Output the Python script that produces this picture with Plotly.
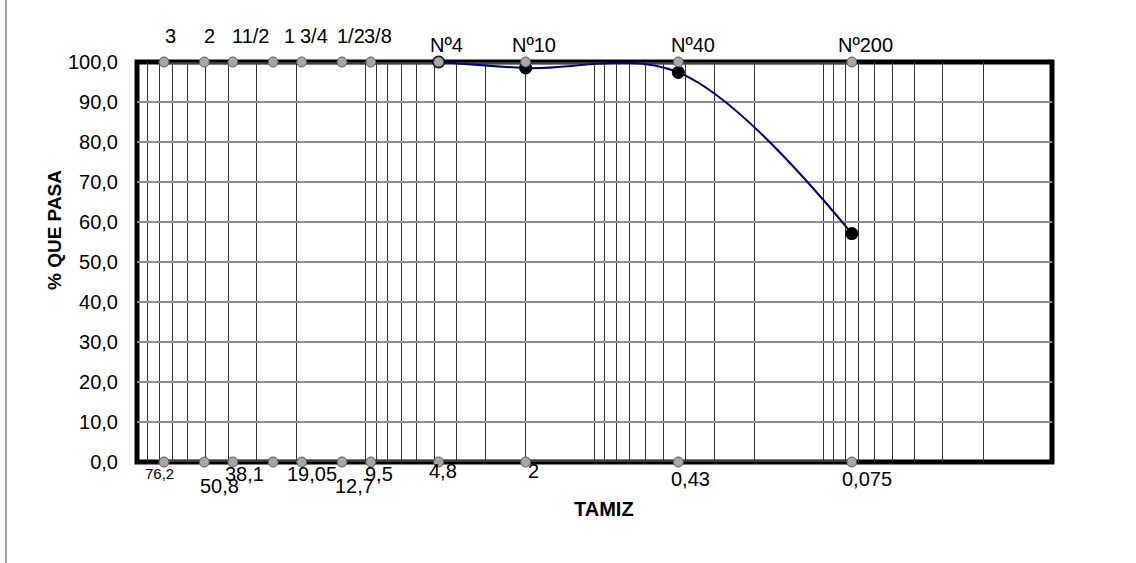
import math
import plotly.graph_objects as go

# ---------------- data ----------------
sieve_mm = [76.2, 50.8, 38.1, 25.4, 19.05, 12.7, 9.5, 4.8, 2.0, 0.43, 0.075]
sieve_top_labels = ["3", "2", "11/2", "1", "3/4", "1/2", "3/8", "Nº4", "Nº10", "Nº40", "Nº200"]
sieve_bottom_labels = ["76,2", "50,8", "38,1", "", "19,05", "12,7", "9,5", "4,8", "2", "0,43", "0,075"]

test_sieve_mm = [4.8, 2.0, 0.43, 0.075]
pct_passing = [100.0, 98.5, 97.4, 57.1]

y_ticks = [0, 10, 20, 30, 40, 50, 60, 70, 80, 90, 100]

# ---------------- styles ----------------
FONT = "Liberation Sans, Arial, sans-serif"
top_dx = [6, 5, 18, 16, 12.5, 8.5, 7.5, 7.5, 8, 15, 14]
top_dy = [26.5, 26.5, 26.5, 26.5, 26.5, 26.5, 26.5, 17, 17, 17, 17]
bot_dx = [-5, 15, 12, 0, 10, 12, 8, 4, 8, 12, 15]
bot_dy = [-11, -24, -12, 0, -12, -24, -12, -9, -9, -17, -17]
bot_size = [15, 20, 20, 20, 20, 20, 20, 20, 20, 20, 20]

W, H = 1136, 563
L, R, T, B = 137, 84, 62, 101

fig = go.Figure()

# smoothed test curve (clipped to plot area)
fig.add_trace(go.Scatter(
    x=test_sieve_mm, y=pct_passing, mode="lines",
    line=dict(color="#000080", width=2, shape="spline", smoothing=1.0),
    hoverinfo="skip", showlegend=False))
# test points
fig.add_trace(go.Scatter(
    x=test_sieve_mm, y=pct_passing, mode="markers",
    marker=dict(color="black", size=13),
    cliponaxis=False, showlegend=False))
# sieve reference dots top and bottom
for yv in (100, 0):
    fig.add_trace(go.Scatter(
        x=sieve_mm, y=[yv] * len(sieve_mm), mode="markers",
        marker=dict(color="#a6a6a6", size=10, line=dict(color="#595959", width=1)),
        cliponaxis=False, showlegend=False))

pw, ph = W - L - R, H - T - B

shapes = [
    dict(type="rect", xref="paper", yref="paper", x0=0, x1=1, y0=0, y1=1,
         line=dict(color="black", width=5), layer="between"),
    # thin outer border line at the left of the picture
    dict(type="line", xref="paper", yref="paper",
         x0=(6 - L) / pw, x1=(6 - L) / pw, y0=(H - B - H) / ph, y1=(H - B) / ph,
         line=dict(color="#404040", width=1), layer="above"),
]
for yv in (100, 0):
    shapes.append(dict(type="line", xref="x", yref="y",
                       x0=max(sieve_mm), x1=min(sieve_mm), y0=yv, y1=yv,
                       line=dict(color="#3a3a3a", width=4), layer="between"))

annotations = []
for i, s in enumerate(sieve_mm):
    annotations.append(dict(
        x=math.log10(s), y=100, xref="x", yref="y", text=sieve_top_labels[i],
        showarrow=False, xanchor="center", yanchor="middle",
        xshift=top_dx[i], yshift=top_dy[i],
        font=dict(family=FONT, size=20, color="black")))
    if sieve_bottom_labels[i]:
        annotations.append(dict(
            x=math.log10(s), y=0, xref="x", yref="y", text=sieve_bottom_labels[i],
            showarrow=False, xanchor="center", yanchor="middle",
            xshift=bot_dx[i], yshift=bot_dy[i],
            font=dict(family=FONT, size=bot_size[i], color="black")))

annotations.append(dict(
    x=(604 - L) / pw, y=(H - B - 509) / ph, xref="paper", yref="paper",
    text="<b>TAMIZ</b>", showarrow=False, xanchor="center", yanchor="middle",
    font=dict(family=FONT, size=20, color="black")))
annotations.append(dict(
    x=(54 - L) / pw, y=(H - B - 230) / ph, xref="paper", yref="paper",
    text="<b>% QUE PASA</b>", showarrow=False, textangle=-90,
    xanchor="center", yanchor="middle",
    font=dict(family=FONT, size=19, color="black")))

fig.update_layout(
    width=W, height=H,
    margin=dict(l=L, r=R, t=T, b=B, pad=0),
    paper_bgcolor="white", plot_bgcolor="white",
    separators=",.",
    showlegend=False,
    font=dict(family=FONT, size=20, color="black"),
    shapes=shapes,
    annotations=annotations,
    xaxis=dict(
        type="log", range=[2, -2], dtick="D1",
        showticklabels=False, ticks="",
        showgrid=True, gridcolor="#333333", gridwidth=1,
        showline=False, zeroline=False, layer="below traces"),
    yaxis=dict(
        range=[0, 100], tickvals=y_ticks, tickformat=".1f",
        ticks="", ticklabelstandoff=18,
        tickfont=dict(family=FONT, size=20, color="black"),
        showgrid=True, gridcolor="#8c8c8c", gridwidth=2,
        showline=False, zeroline=False, layer="below traces"),
)

fig.write_html("out.html")
